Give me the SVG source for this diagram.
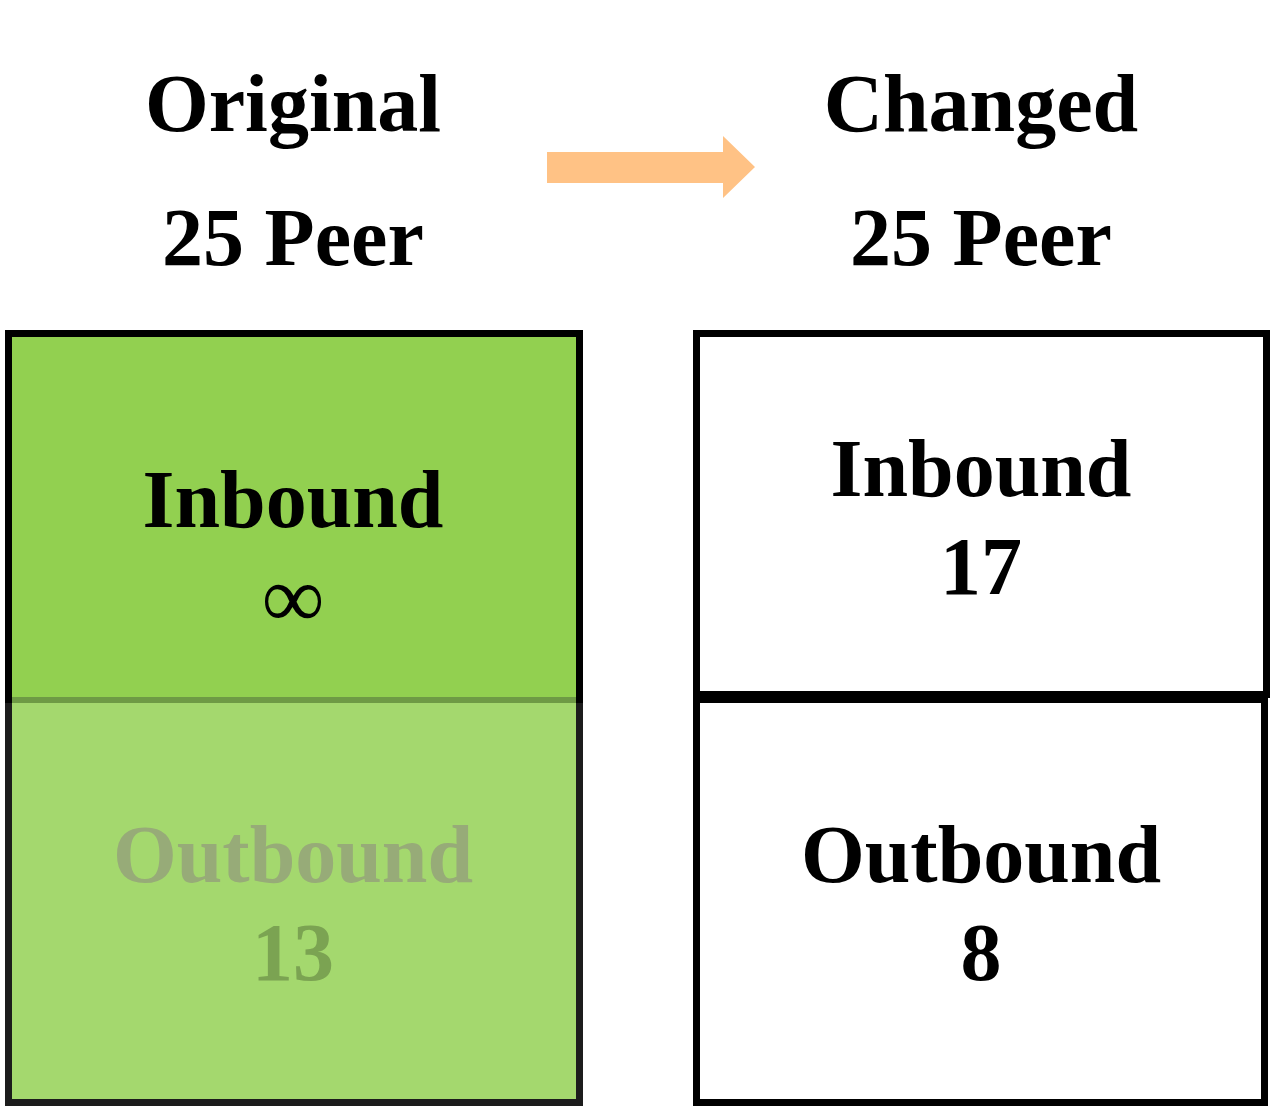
<svg xmlns="http://www.w3.org/2000/svg" width="1274" height="1109" viewBox="0 0 1274 1109">
<style>
.t{font-family:"Liberation Serif","Times New Roman",serif;font-weight:bold;font-size:82px;text-anchor:middle;fill:#000}
.n{font-family:"Liberation Serif","Times New Roman",serif;font-size:88px;text-anchor:middle;fill:#000}
.box{stroke:#000;stroke-width:7}
</style>
<rect width="1274" height="1109" fill="#fff"/>
<g id="titles">
<text class="t" x="293" y="131">Original</text>
<text class="t" x="293" y="265">25 Peer</text>
<text class="t" x="981" y="131">Changed</text>
<text class="t" x="981" y="265">25 Peer</text>
</g>
<g id="connectors">
<polygon points="547,152 723,152 723,136 755,167 723,198 723,183 547,183" fill="#FFC285"/>
</g>
<g id="original">
<rect class="box" x="8.5" y="333.5" width="571" height="769" fill="#92D050"/>
<rect x="12" y="700" width="564" height="399" fill="#A4D86E"/>
<rect x="12" y="697" width="564" height="6" fill="#6E9A45"/>
<rect x="5" y="703" width="7" height="403" fill="#1c1c1c"/>
<rect x="576" y="703" width="7" height="403" fill="#1c1c1c"/>
<rect x="5" y="1099" width="578" height="7" fill="#1c1c1c"/>
<text class="t" x="293" y="527">Inbound</text>
<text class="n" x="293" y="627">∞</text>
<text class="t" x="293" y="882" style="fill:#97AB78">Outbound</text>
<text class="t" x="293" y="980" style="fill:#7BA352">13</text>
</g>
<g id="changed-inbound">
<rect class="box" x="696.5" y="333.5" width="570" height="361" fill="#fff"/>
<text class="t" x="981" y="496">Inbound</text>
<text class="t" x="981" y="594">17</text>
</g>
<g id="changed-outbound">
<rect class="box" x="696.5" y="699.5" width="568" height="403" fill="#fff"/>
<text class="t" x="981" y="882">Outbound</text>
<text class="t" x="981" y="980">8</text>
</g>
</svg>
